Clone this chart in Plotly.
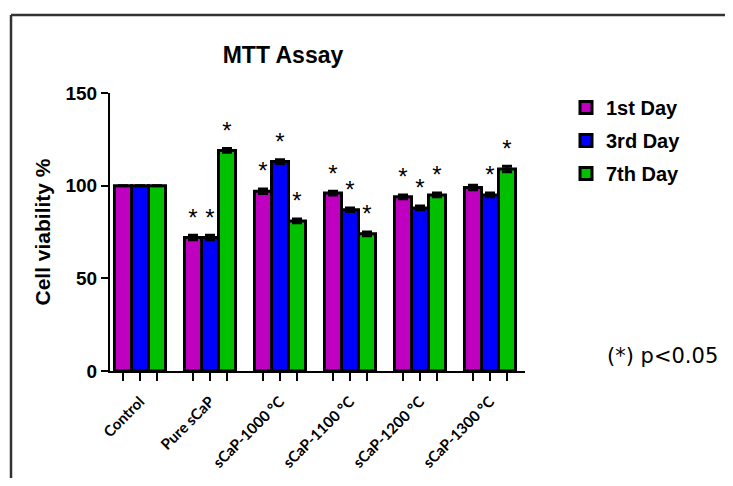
import plotly.graph_objects as go

categories = ["Control", "Pure sCaP", "sCaP-1000 \u00b0C", "sCaP-1100 \u00b0C", "sCaP-1200 \u00b0C", "sCaP-1300 \u00b0C"]
series_names = ["1st Day", "3rd Day", "7th Day"]
day1 = [100, 72, 97, 96, 94, 99]
day3 = [100, 72, 113, 87, 88, 95]
day7 = [100, 119, 81, 74, 95, 109]
err1 = [0, 1.2, 1.2, 1.0, 1.0, 1.2]
err3 = [0, 1.2, 1.0, 1.0, 1.0, 1.0]
err7 = [0, 1.0, 1.0, 1.0, 1.0, 1.5]
sig1 = [False, True, True, True, True, False]
sig3 = [False, True, True, True, True, True]
sig7 = [False, True, True, True, True, True]
colors = ["#C000C0", "#0000FF", "#00C000"]

values = [day1, day3, day7]
errs = [err1, err3, err7]
sigs = [sig1, sig3, sig7]

W = 0.243
offsets = [-W, 0.0, W]
FONT = "Liberation Sans, Arial, sans-serif"

fig = go.Figure()
for k in range(3):
    xs = [i + offsets[k] for i in range(len(categories))]
    fig.add_trace(go.Bar(
        x=xs, y=values[k], width=W, name=series_names[k], legendgroup=str(k),
        marker=dict(color=colors[k], line=dict(color="black", width=3)),
        error_y=dict(type="data", array=errs[k], visible=True, color="black", thickness=3, width=5),
    ))

# significance asterisks (placed a little above each bar's error cap)
sx, sy = [], []
for k in range(3):
    for i in range(len(categories)):
        if sigs[k][i]:
            sx.append(i + offsets[k])
            sy.append(values[k][i] + errs[k][i] + 2)
fig.add_trace(go.Scatter(
    x=sx, y=sy, mode="text", text=["*"] * len(sx), textposition="top center",
    textfont=dict(family=FONT, size=24, color="black"), showlegend=False, hoverinfo="skip",
))

tickvals, ticktext = [], []
for i, c in enumerate(categories):
    for k in range(3):
        tickvals.append(i + offsets[k])
        ticktext.append(c if k == 1 else "")

# page body has an 8px margin; positions below are reference pixels minus that offset
OFF = 8
FW, FH = 733 - OFF, 486 - 2 * OFF
L, T = 110 - OFF, 93 - OFF
R = FW - (525 - OFF)
B = FH - (371 - OFF)
pw, ph = FW - L - R, FH - T - B

def px_x(p):
    return (p - OFF - L) / pw

def px_y(p):
    return (FH - B - (p - OFF)) / ph

fig.update_layout(
    width=FW, height=FH,
    margin=dict(l=L, r=R, t=T, b=B, pad=0, autoexpand=False),
    paper_bgcolor="white", plot_bgcolor="white",
    barmode="overlay",
    title=dict(text="MTT Assay", x=px_x(283), xref="paper", xanchor="center",
               y=1 - (55 - OFF) / FH, yref="container", yanchor="middle",
               font=dict(family=FONT, size=23, color="black", weight="bold")),
    xaxis=dict(range=[-30 / 70, 415 / 70 - 30 / 70], tickmode="array", tickvals=tickvals, ticktext=ticktext,
               tickangle=-45, ticks="outside", ticklen=8, tickwidth=2, tickcolor="black", ticklabelstandoff=6,
               showline=True, linecolor="black", linewidth=2, showgrid=False, zeroline=False, automargin=False,
               tickfont=dict(family="Lato, sans-serif", size=15, color="black", weight="bold")),
    yaxis=dict(range=[0, 150], tickvals=[0, 50, 100, 150], ticks="outside", ticklen=7, tickwidth=2,
               tickcolor="black", showline=True, linecolor="black", linewidth=2, showgrid=False, zeroline=False,
               automargin=False,
               tickfont=dict(family=FONT, size=19, color="black", weight="bold"),
               title=dict(text="Cell viability %", standoff=9,
                          font=dict(family=FONT, size=21, color="black", weight="bold"))),
    legend=dict(x=px_x(566), y=px_y(88), xanchor="left", yanchor="top",
                font=dict(family=FONT, size=20, color="black", weight="bold"),
                bgcolor="rgba(0,0,0,0)", tracegroupgap=4),
    showlegend=True,
    annotations=[dict(text="(*) p<0.05", x=px_x(662), y=px_y(356), xref="paper", yref="paper",
                      xanchor="center", yanchor="middle", showarrow=False,
                      font=dict(family="DejaVu Sans, sans-serif", size=21, color="black"))],
    shapes=[
        dict(type="line", xref="paper", yref="paper", x0=px_x(11), x1=px_x(745), y0=px_y(15), y1=px_y(15),
             line=dict(color="#333333", width=2.5)),
        dict(type="line", xref="paper", yref="paper", x0=px_x(11), x1=px_x(11), y0=px_y(15), y1=px_y(495),
             line=dict(color="#333333", width=2.5)),
    ],
)

fig.write_html("out.html")
